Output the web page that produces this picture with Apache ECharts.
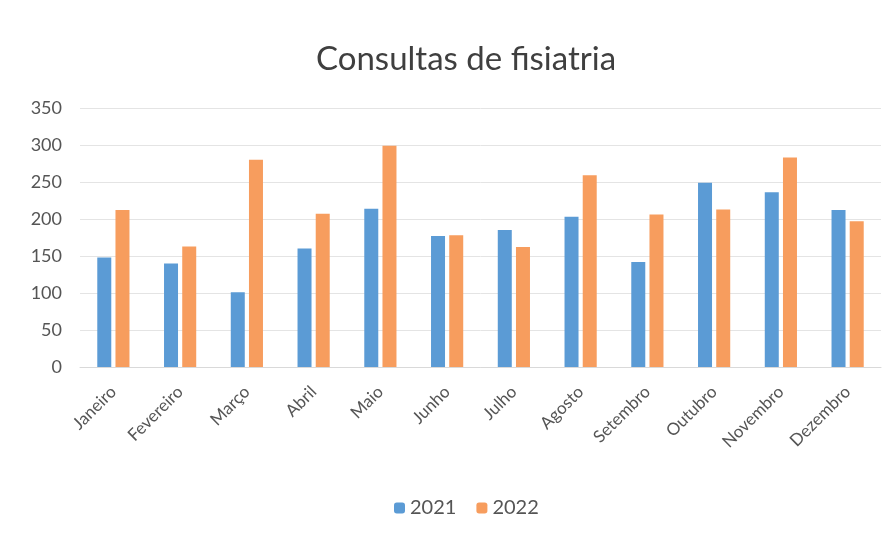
<!DOCTYPE html>
<html>
<head>
<meta charset="utf-8">
<script src="https://cdn.jsdelivr.net/npm/echarts@6/dist/echarts.min.js"></script>
<style>
  html, body { margin: 0; padding: 0; background: #fff; }
  #main { width: 893px; height: 537px; }
</style>
</head>
<body>
<div id="main"></div>
<script>
// meses
var months = ['Janeiro', 'Fevereiro', 'Março', 'Abril', 'Maio', 'Junho',
  'Julho', 'Agosto', 'Setembro', 'Outubro', 'Novembro', 'Dezembro'];
// consultas por ano
var values2021 = [148, 140, 101, 160, 214, 177, 185, 203, 142, 249, 236, 212];
var values2022 = [212, 163, 280, 207, 299, 178, 162, 259, 206, 213, 283, 197];

var myChart = echarts.init(document.getElementById('main'));
var option = {
  backgroundColor: '#fff',
  title: {
    text: 'Consultas de fisiatria',
    left: 311,
    top: 38,
    textStyle: { fontFamily: 'Lato', fontSize: 33, fontWeight: 'normal', color: '#3f3f3f' }
  },
  legend: {
    data: ['2021', '2022'],
    bottom: 14,
    left: 389,
    itemWidth: 11,
    itemHeight: 11,
    itemGap: 20,
    textStyle: { fontFamily: 'Lato', fontSize: 20, color: '#555' }
  },
  grid: { left: 80, right: 12, top: 108, bottom: 170 },
  xAxis: {
    type: 'category',
    data: months,
    axisLine: { show: true, lineStyle: { color: '#d9d9d9' } },
    axisTick: { show: false },
    axisLabel: {
      rotate: 45,
      interval: 0,
      margin: 22,
      fontFamily: 'Lato',
      fontSize: 17,
      color: '#555'
    }
  },
  yAxis: {
    type: 'value',
    min: 0,
    max: 350,
    interval: 50,
    axisLine: { show: false },
    axisTick: { show: false },
    splitLine: { lineStyle: { color: '#e4e4e4' } },
    axisLabel: { fontFamily: 'Lato', fontSize: 18, color: '#555', margin: 18 }
  },
  series: [
    {
      name: '2021',
      type: 'bar',
      data: values2021,
      barWidth: 14,
      barGap: '30%',
      itemStyle: { color: '#5b9bd5' }
    },
    {
      name: '2022',
      type: 'bar',
      data: values2022,
      barWidth: 14,
      itemStyle: { color: '#f79d5e' }
    }
  ]
};
myChart.setOption(option);
</script>
</body>
</html>
